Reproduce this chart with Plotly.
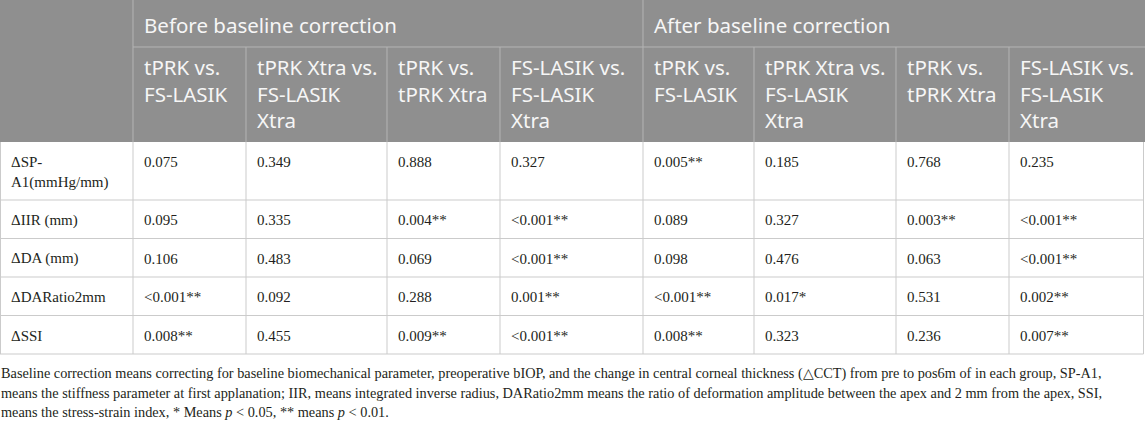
import plotly.graph_objects as go

groups = ["Before baseline correction", "After baseline correction"]
comparisons = ["tPRK vs.<br>FS-LASIK", "tPRK Xtra vs.<br>FS-LASIK<br>Xtra",
               "tPRK vs.<br>tPRK Xtra", "FS-LASIK vs.<br>FS-LASIK<br>Xtra"]
params = ["ΔSP-<br>A1(mmHg/mm)", "ΔIIR (mm)", "ΔDA (mm)", "ΔDARatio2mm", "ΔSSI"]

# p values, one list per comparison column
before = [
    ["0.075", "0.095", "0.106", "<0.001**", "0.008**"],
    ["0.349", "0.335", "0.483", "0.092", "0.455"],
    ["0.888", "0.004**", "0.069", "0.288", "0.009**"],
    ["0.327", "<0.001**", "<0.001**", "0.001**", "<0.001**"],
]
after = [
    ["0.005**", "0.089", "0.098", "<0.001**", "0.008**"],
    ["0.185", "0.327", "0.476", "0.017*", "0.323"],
    ["0.768", "0.003**", "0.063", "0.531", "0.236"],
    ["0.235", "<0.001**", "<0.001**", "0.002**", "0.007**"],
]

footnote = [
    "Baseline correction means correcting for baseline biomechanical parameter, preoperative bIOP, and the change in central corneal thickness (△CCT) from pre to pos6m of in each group, SP-A1,",
    "means the stiffness parameter at first applanation; IIR, means integrated inverse radius, DARatio2mm means the ratio of deformation amplitude between the apex and 2 mm from the apex, SSI,",
    "means the stress-strain index, * Means <i>p</i> &lt; 0.05, ** means <i>p</i> &lt; 0.01.",
]

# layout of the table in pixels
W, H = 1145, 421
col_w = [133, 113, 141, 113, 143, 111, 142, 113, 136]
head1_h, head2_h = 47, 95
row_h = [58, 38.5, 38.5, 38.5, 38.5]

HEAD_BG = "#8f8f8f"
HEAD_LINE = "#b4b4b4"
GRID = "#cbcbcb"
head_font = dict(family="Noto Sans", size=20.5, color="#f6f6f6")
body_font = dict(family="Liberation Serif", size=15, color="#231f20")
foot_font = dict(family="Liberation Serif", size=14.3, color="#231f20")

col_x = [0]
for w in col_w:
    col_x.append(col_x[-1] + w)
row_y = [head1_h + head2_h]
for h in row_h:
    row_y.append(row_y[-1] + h)

fig = go.Figure()


def line(x0, y0, x1, y1, color):
    fig.add_shape(type="line", xref="x", yref="y", x0=x0, y0=y0, x1=x1, y1=y1,
                  line=dict(color=color, width=1), layer="above")


def cell_text(txt, left, top, first, gap, font):
    # one annotation per cell, centred on the middle of its lines
    n = txt.count("<br>") + 1
    fig.add_annotation(x=left + 10, y=top + first + (n - 1) * gap / 2, text=txt,
                       xref="x", yref="y", xanchor="left", yanchor="middle",
                       align="left", showarrow=False, borderpad=0, font=font)


# header background
fig.add_shape(type="rect", xref="x", yref="y", x0=0, y0=0, x1=W, y1=row_y[0],
              fillcolor=HEAD_BG, line=dict(width=0), layer="below")

# header grid
line(col_x[1], 0, col_x[1], row_y[0], HEAD_LINE)
line(col_x[5], 0, col_x[5], row_y[0], HEAD_LINE)
line(col_x[1], head1_h, W, head1_h, HEAD_LINE)
for c in [2, 3, 4, 6, 7, 8]:
    line(col_x[c], head1_h, col_x[c], row_y[0], HEAD_LINE)

# body grid
for c, x in enumerate(col_x):
    x = min(max(x, 0.5), W - 1.5)
    line(x, row_y[0], x, row_y[-1], GRID)
for y in row_y[1:]:
    line(0, y, W - 1.5, y, GRID)

# header texts
for g, name in enumerate(groups):
    cell_text(name, col_x[1 + 4 * g], 0, 25, 0, head_font)
    for k, comp in enumerate(comparisons):
        cell_text(comp, col_x[1 + 4 * g + k], head1_h, 21, 25, head_font)

# body texts
columns = [params] + before + after
for c, values in enumerate(columns):
    for r, v in enumerate(values):
        cell_text(v.replace("<0", "&lt;0"), col_x[c], row_y[r], 20, 20, body_font)

# footnote
for i, txt in enumerate(footnote):
    fig.add_annotation(x=0, y=373 + i * 19.5, text=txt, xref="x", yref="y",
                       xanchor="left", yanchor="middle", showarrow=False,
                       borderpad=0, font=foot_font)

fig.update_layout(
    width=W, height=H,
    margin=dict(l=0, r=0, t=0, b=0),
    paper_bgcolor="white",
    plot_bgcolor="white",
    xaxis=dict(range=[0, W], visible=False, fixedrange=True),
    yaxis=dict(range=[H, 0], visible=False, fixedrange=True),
    showlegend=False,
)

fig.write_html("out.html", config={"displayModeBar": False},
               post_script="document.body.style.margin='0px';")
